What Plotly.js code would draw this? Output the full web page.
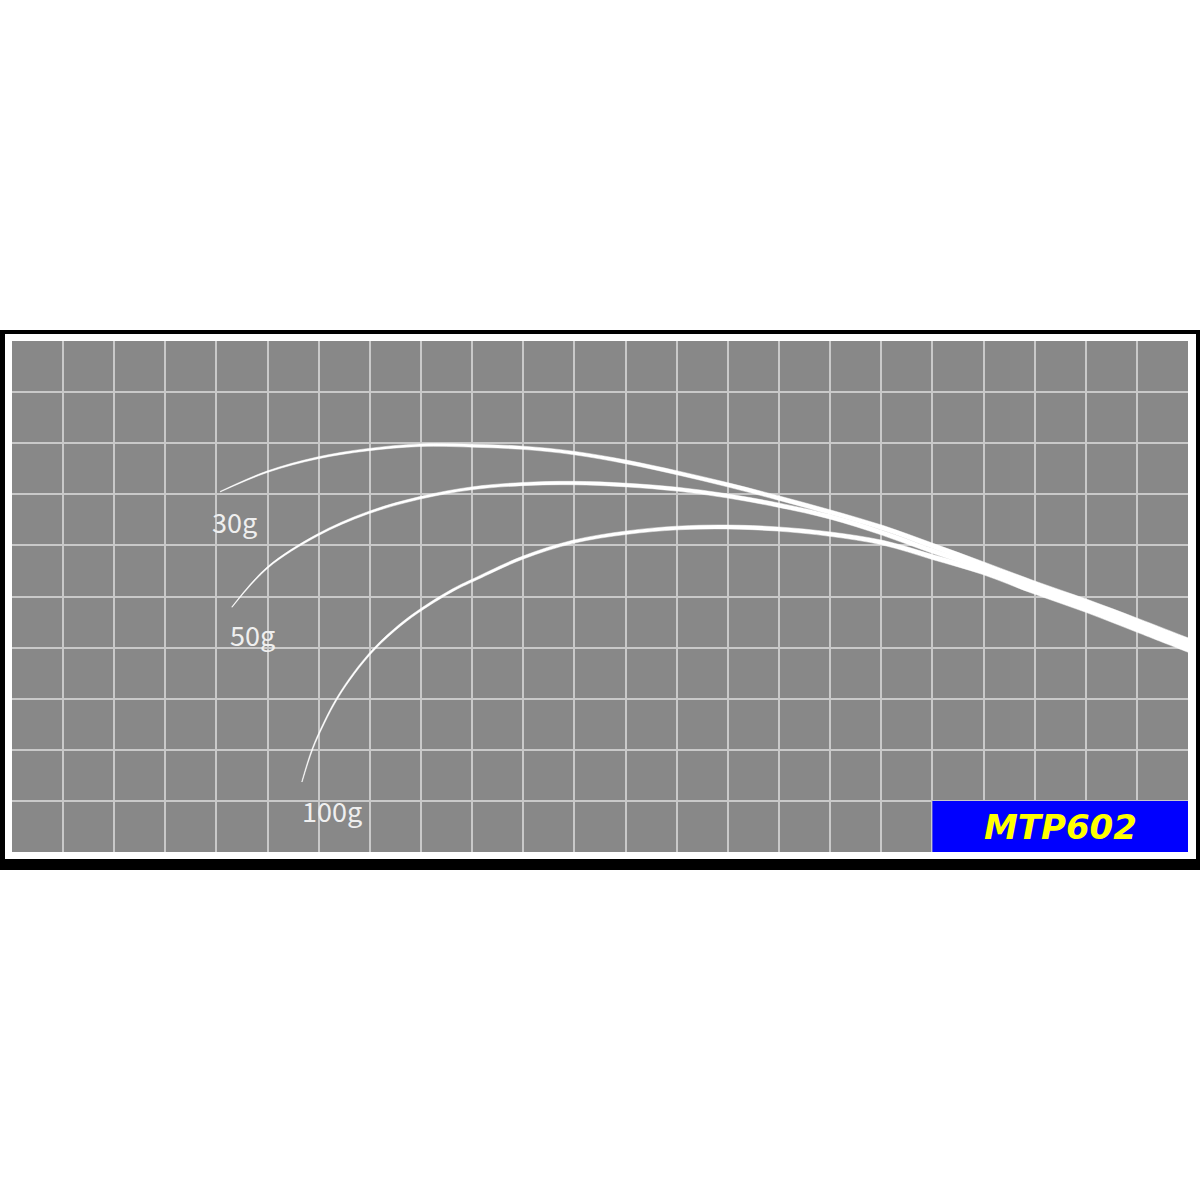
<!DOCTYPE html>
<html>
<head>
<meta charset="utf-8">
<script src="https://cdn.plot.ly/plotly-3.0.1.min.js"></script>
<style>
  html, body { margin: 0; padding: 0; background: #ffffff; }
  #chartDiv { width: 1200px; height: 1200px; }
</style>
</head>
<body>
<div id="chartDiv"></div>
<script>
// bend curves (x: 0-23 cells, y: 0-10 cells)
var x30 = [4.07, 4.99, 5.97, 6.94, 7.98, 9.02, 9.99, 10.97, 12.03, 13.01, 13.98, 14.98, 16.00, 17.04, 18.01, 18.99, 19.97, 21.02, 22.00, 23.00];
var y30 = [7.05, 7.44, 7.71, 7.87, 7.96, 7.95, 7.91, 7.81, 7.63, 7.42, 7.19, 6.93, 6.65, 6.34, 5.99, 5.63, 5.26, 4.89, 4.52, 4.13];

var x50 = [4.30, 4.99, 5.97, 6.94, 7.98, 9.02, 9.99, 10.97, 12.03, 13.01, 13.98, 14.98, 16.00, 17.04, 18.01, 18.99, 19.97, 21.02, 22.00, 23.00];
var y50 = [4.79, 5.56, 6.20, 6.63, 6.93, 7.12, 7.20, 7.22, 7.18, 7.10, 6.97, 6.79, 6.56, 6.24, 5.89, 5.56, 5.19, 4.81, 4.44, 4.05];

var x100 = [5.67, 5.87, 6.10, 6.36, 6.69, 7.10, 7.59, 8.04, 8.63, 9.02, 9.99, 10.97, 12.03, 13.01, 13.98, 14.98, 16.00, 17.04, 18.01, 18.99, 19.97, 21.02, 22.00, 23.00];
var y100 = [1.37, 2.00, 2.52, 3.01, 3.50, 3.99, 4.44, 4.77, 5.13, 5.32, 5.76, 6.07, 6.25, 6.34, 6.36, 6.32, 6.22, 6.05, 5.77, 5.48, 5.11, 4.74, 4.36, 3.97];

var curveLabels = ["30g", "50g", "100g"];
var modelName = "MTP602";

var gridCols = 23;
var gridRows = 10;

// pixels per grid cell, used to keep the taper width in screen pixels
var cellW = 1176 / gridCols;
var cellH = 511 / gridRows;

// tapered rod: a filled ribbon around the curve, thin at the tip and
// about 6px at the butt, smoothed with plotly's spline
function ribbonTrace(xs, ys) {
	var n = xs.length;
	var upX = [], upY = [], loX = [], loY = [];
	var nx, ny, tx, ty, half;
	for (let i = 0; i < n; i++) {
		var a = Math.max(0, i - 1);
		var b = Math.min(n - 1, i + 1);
		var dx = (xs[b] - xs[a]) * cellW;
		var dy = (ys[b] - ys[a]) * cellH;
		var len = Math.sqrt(dx * dx + dy * dy);
		tx = dx / len; ty = dy / len;
		nx = -ty; ny = tx;
		var t = (xs[i] - xs[0]) / (xs[n - 1] - xs[0]);
		half = (0.6 + 5.2 * Math.pow(t, 0.6)) / 2;
		upX.push(xs[i] + nx * half / cellW);
		upY.push(ys[i] + ny * half / cellH);
		loX.push(xs[i] - nx * half / cellW);
		loY.push(ys[i] - ny * half / cellH);
	}
	// carry the butt a little past the right edge so the rounded turn
	// of the outline falls outside the plot and gets clipped
	var ext = 12;
	upX.push(upX[n - 1] + tx * ext / cellW);
	upY.push(upY[n - 1] + ty * ext / cellH);
	loX.push(loX[n - 1] + tx * ext / cellW);
	loY.push(loY[n - 1] + ty * ext / cellH);
	return {
		x: upX.concat(loX.reverse()),
		y: upY.concat(loY.reverse()),
		type: "scatter",
		mode: "lines",
		fill: "toself",
		fillcolor: "#ffffff",
		hoverinfo: "skip",
		showlegend: false,
		line: { color: "rgba(255,255,255,0.8)", width: 0.6, shape: "spline", smoothing: 1 }
	};
}

var data = [ribbonTrace(x100, y100), ribbonTrace(x50, y50), ribbonTrace(x30, y30)];

// plot area in page pixels: x 12-1188, y 341-852
var plotW = 1176, plotH = 511, left = 12, bottom = 852;
function px(v) { return (v - left) / plotW; }
function py(v) { return (bottom - v) / plotH; }

var labelFont = { family: "Noto Sans CJK JP, Noto Sans, sans-serif", size: 27, color: "#efefef" };

var layout = {
	width: 1200,
	height: 1200,
	margin: { l: 12, r: 12, t: 341, b: 348, pad: 0 },
	paper_bgcolor: "#ffffff",
	plot_bgcolor: "#888888",
	showlegend: false,
	hovermode: false,
	xaxis: {
		range: [0.001, gridCols - 0.001],
		tick0: 0, dtick: 1,
		showgrid: true, gridcolor: "#c9c9c9", gridwidth: 2,
		zeroline: false, showline: false, showticklabels: false, ticks: "",
		fixedrange: true
	},
	yaxis: {
		range: [0.001, gridRows - 0.001],
		tick0: 0, dtick: 1,
		showgrid: true, gridcolor: "#c9c9c9", gridwidth: 2,
		zeroline: false, showline: false, showticklabels: false, ticks: "",
		fixedrange: true
	},
	shapes: [
		{ type: "rect", xref: "paper", yref: "paper", layer: "below",
		  x0: px(0), x1: px(1200), y0: py(870), y1: py(330),
		  fillcolor: "#000000", line: { width: 0 } },
		{ type: "rect", xref: "paper", yref: "paper", layer: "below",
		  x0: px(5), x1: px(1196), y0: py(859), y1: py(334),
		  fillcolor: "#ffffff", line: { width: 0 } },
		{ type: "rect", xref: "paper", yref: "paper", layer: "below",
		  x0: 0, x1: 1, y0: 0, y1: 1,
		  fillcolor: "#888888", line: { width: 0 } },
		{ type: "rect", xref: "x", yref: "y", layer: "above",
		  x0: 18, x1: gridCols, y0: 0, y1: 1,
		  fillcolor: "#0000ff", line: { width: 0 } }
	],
	annotations: [
		{ x: 4.36, y: 6.46, xref: "x", yref: "y", text: curveLabels[0], showarrow: false,
		  xanchor: "center", yanchor: "middle", font: labelFont },
		{ x: 4.71, y: 4.25, xref: "x", yref: "y", text: curveLabels[1], showarrow: false,
		  xanchor: "center", yanchor: "middle", font: labelFont },
		{ x: 6.26, y: 0.82, xref: "x", yref: "y", text: curveLabels[2], showarrow: false,
		  xanchor: "center", yanchor: "middle", font: labelFont },
		{ x: 20.5, y: 0.5, xref: "x", yref: "y", text: "<b><i>" + modelName + "</i></b>", showarrow: false,
		  xanchor: "center", yanchor: "middle",
		  font: { family: "DejaVu Sans, Verdana, sans-serif", size: 34, color: "#ffff00" } }
	]
};

Plotly.newPlot("chartDiv", data, layout, { staticPlot: true, displayModeBar: false });
</script>
</body>
</html>
